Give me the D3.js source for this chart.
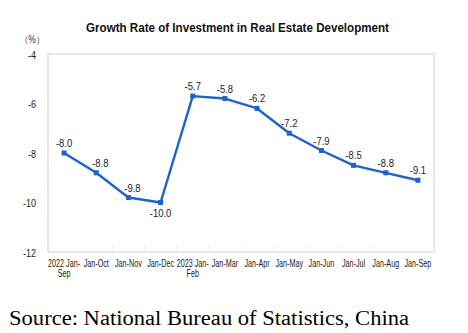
<!DOCTYPE html>
<html><head><meta charset="utf-8">
<script src="https://cdn.jsdelivr.net/npm/d3@7"></script>
<style>html,body{margin:0;padding:0;background:#fff;}svg{display:block;}</style>
</head><body>
<svg id="c" width="468" height="333"></svg>
<script>
const categories = [["2022 Jan-","Sep"],["Jan-Oct"],["Jan-Nov"],["Jan-Dec"],["2023 Jan-","Feb"],["Jan-Mar"],["Jan-Apr"],["Jan-May"],["Jan-Jun"],["Jan-Jul"],["Jan-Aug"],["Jan-Sep"]];
const values = [-8.0,-8.8,-9.8,-10.0,-5.7,-5.8,-6.2,-7.2,-7.9,-8.5,-8.8,-9.1];
const yTicks = [-4,-6,-8,-10,-12];
const title = "Growth Rate of Investment in Real Estate Development";
const unit = "（%）";
const source = "Source: National Bureau of Statistics, China";

const svg = d3.select("#c");
const m = {left:48, right:434, top:54, bottom:252};
const x = d3.scaleBand().domain(d3.range(values.length)).range([m.left, m.right]);
const y = d3.scaleLinear().domain([-12,-4]).range([m.bottom, m.top]);
const sans = "'Liberation Sans', Arial, sans-serif";

// frame
svg.append("rect").attr("x", m.left).attr("y", m.top)
  .attr("width", m.right-m.left).attr("height", m.bottom-m.top)
  .attr("fill","none").attr("stroke","#e0e0e0").attr("stroke-width",1.5);

// faint category ticks
svg.append("g").selectAll("line").data(d3.range(1, values.length)).join("line")
  .attr("x1", i => x(i)).attr("x2", i => x(i))
  .attr("y1", m.bottom-6).attr("y2", m.bottom)
  .attr("stroke","#eeeeee").attr("stroke-width",1);

// y axis labels
const yAxis = svg.append("g").attr("transform",`translate(${m.left},0)`)
  .call(d3.axisLeft(y).tickValues(yTicks).tickSize(0).tickPadding(0));
yAxis.select(".domain").remove();
yAxis.selectAll("text").remove();
yAxis.selectAll(".tick").append("text")
  .attr("transform","translate(-12,4) scale(0.82,1)")
  .attr("text-anchor","end").attr("fill","#222")
  .style("font-family",sans).style("font-size","11px")
  .text(d => String(d));

// x labels
const xl = svg.append("g").selectAll("g").data(categories).join("g")
  .attr("transform",(d,i)=>`translate(${x(i)+x.bandwidth()/2},266.5) scale(0.72,1)`);
xl.selectAll("text").data(d=>d).join("text")
  .attr("y",(d,j)=>j*11).attr("text-anchor","middle").attr("fill","#222")
  .style("font-family",sans).style("font-size","10px").text(d=>d);

// line
const cx = i => x(i)+x.bandwidth()/2;
svg.append("path").datum(values)
  .attr("d", d3.line().x((d,i)=>cx(i)).y(d=>y(d)))
  .attr("fill","none").attr("stroke","#1f62c8").attr("stroke-width",2.4).attr("stroke-linejoin","round");
svg.append("g").selectAll("rect").data(values).join("rect")
  .attr("x",(d,i)=>cx(i)-2.5).attr("y",d=>y(d)-2.5).attr("width",5).attr("height",5)
  .attr("fill","#1f62c8");

// data labels
const lowest = d3.min(values);
svg.append("g").selectAll("text").data(values).join("text")
  .attr("transform",(d,i)=>`translate(${cx(i)+ (i>0&&i<4&&d!==lowest?4:0)},${d===lowest? y(d)+14 : y(d)-6}) scale(0.86,1)`)
  .attr("text-anchor","middle").attr("fill","#222")
  .style("font-family",sans).style("font-size","11px")
  .text(d=>d.toFixed(1));

// title
svg.append("text").attr("x",237.5).attr("y",32).attr("text-anchor","middle")
  .attr("textLength",303).attr("lengthAdjust","spacingAndGlyphs")
  .style("font-family",sans).style("font-size","13px").style("font-weight","bold").attr("fill","#111")
  .text(title);
svg.append("text").attr("transform","translate(32,43) scale(0.85,1)").attr("text-anchor","middle")
  .style("font-family",sans).style("font-size","10px").attr("fill","#333").text(unit);

// source
svg.append("text").attr("x",9).attr("y",325)
  .attr("textLength",400).attr("lengthAdjust","spacingAndGlyphs")
  .style("font-family","'Liberation Serif','Times New Roman',serif").style("font-size","20px").attr("fill","#000")
  .text(source);
</script>
</body></html>
